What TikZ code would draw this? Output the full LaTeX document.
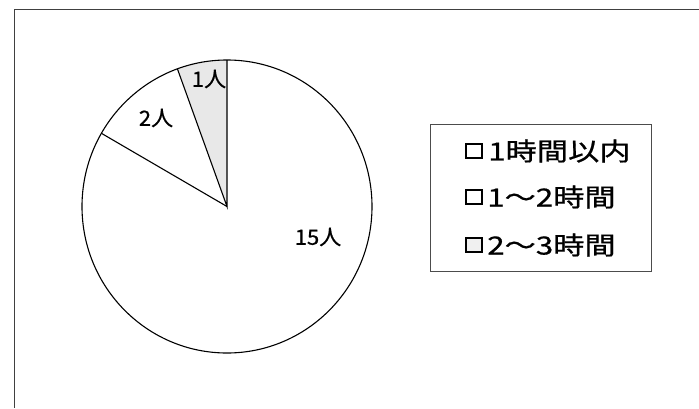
\documentclass[tikz,border=0pt]{standalone}
\usepackage{fontspec}
\setmainfont{Noto Sans CJK JP}[FakeBold=0.6]
\begin{document}
\begin{tikzpicture}[x=1pt,y=-1pt,
  frameline/.style={draw=black!75,line width=0.9pt},
  pieline/.style={draw=black,line width=1.1pt},
  slicelabel/.style={font=\fontsize{21}{23}\selectfont,xscale=1.05,inner sep=0pt},
  legtext/.style={font=\fontsize{25}{27}\selectfont,xscale=1.25,inner sep=0pt,anchor=west},
  legsq/.style={draw=black,line width=1.2pt,minimum width=16pt,minimum height=14pt,inner sep=0pt}]
\useasboundingbox (0,0) rectangle (699,408);
\fill[white] (0,0) rectangle (699,408);
% outer frame (continues past the right and bottom edges)
\draw[frameline] (699,9) -- (14,9) -- (14,408);
% pie
\coordinate (c) at (227,206.5);
\coordinate (top) at (227,60);
\coordinate (p110) at (177.4,68.8);
\coordinate (p150) at (101.4,133.3);
\path[fill=black!9] (c) -- (top) arc[start angle=-90,end angle=-110,x radius=145,y radius=146.5] -- cycle;
\draw[pieline] (top) -- (c) -- (p110);
\draw[pieline] (c) -- (p150);
\draw[pieline] (c) ellipse [x radius=145, y radius=146.5];
% slice labels
\node[slicelabel] (l1) at (209,79) {1人};
\node[slicelabel] (l2) at (156,118) {2人};
\node[slicelabel] (l15) at (318,237) {15人};
% legend
\node[draw=black!70,line width=0.8pt,minimum width=221pt,minimum height=147pt,inner sep=0pt] (leg) at (540.5,197.5) {};
\node[legsq] (s1) at (474,151) {};
\node[legsq] (s2) at (474,197) {};
\node[legsq,fill=black!6] (s3) at (474,245) {};
\node[legtext] (t1) at (488,151) {1時間以内};
\node[legtext] (t2) at (487,197) {1～2時間};
\node[legtext] (t3) at (487,245) {2～3時間};
\end{tikzpicture}
\end{document}
